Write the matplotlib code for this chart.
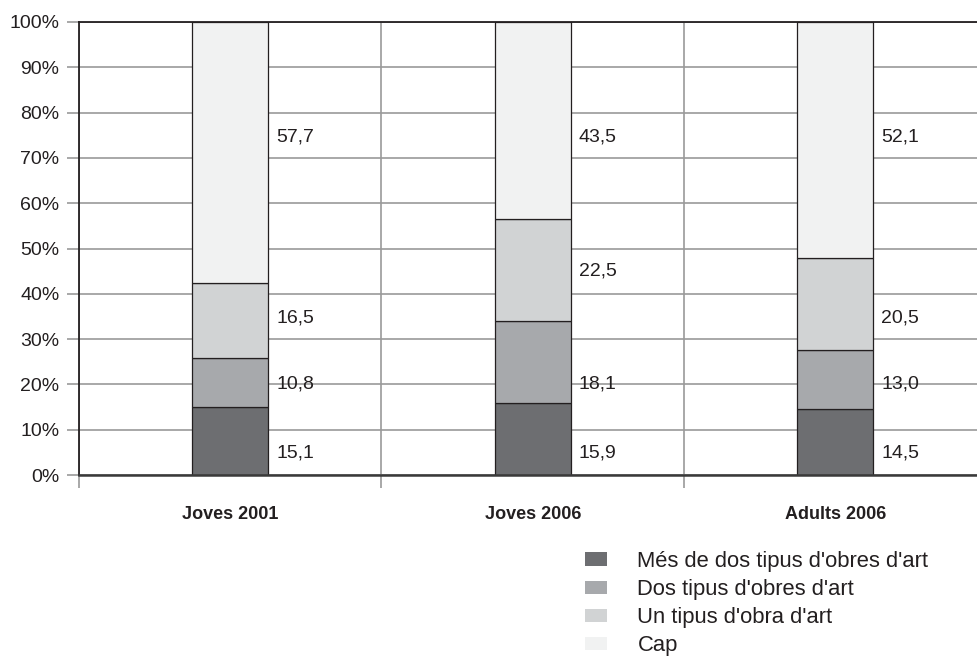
import numpy as np
import matplotlib.pyplot as plt
from matplotlib.patches import Patch
from matplotlib.ticker import FixedLocator, PercentFormatter

plt.rcParams.update({
    'font.family': ['Liberation Sans', 'DejaVu Sans'],
    'text.color': '#231f20',
    'axes.labelcolor': '#231f20',
    'xtick.color': '#231f20',
    'ytick.color': '#231f20',
})

# -------- Data --------
groups = ['Joves 2001', 'Joves 2006', 'Adults 2006']
series = ["Més de dos tipus d'obres d'art", "Dos tipus d'obres d'art",
          "Un tipus d'obra d'art", 'Cap']
mes_de_dos = [15.1, 15.9, 14.5]
dos_tipus = [10.8, 18.1, 13.0]
un_tipus = [16.5, 22.5, 20.5]
cap = [57.7, 43.5, 52.1]

# where the value labels sit (hand placed in the original)
label_y = [
    [4.9, 4.9, 4.9],
    [20.1, 20.1, 20.1],
    [34.7, 45.0, 34.7],
    [74.7, 74.7, 74.7],
]

colors = ['#6d6e71', '#a7a9ac', '#d1d3d4', '#f1f2f2']
edge = '#231f20'
grid_col = '#9a9a9a'

fig = plt.figure(figsize=(9.77, 6.63), dpi=100)
ax = fig.add_axes([79 / 977, 1 - 475 / 663, (986.5 - 79) / 977, (475 - 22) / 663])

x = np.arange(len(groups))
width = 0.25
bottom = np.zeros(len(groups))
for vals, col, name, ly in zip([mes_de_dos, dos_tipus, un_tipus, cap], colors, series, label_y):
    ax.bar(x, vals, width, bottom=bottom, color=col, edgecolor=edge,
           linewidth=0.9, zorder=3)
    for xi, v, yy in zip(x, vals, ly):
        ax.annotate(f'{v:.1f}'.replace('.', ','), xy=(xi + width / 2, yy),
                    xytext=(6, 0), textcoords='offset points',
                    va='center', ha='left', fontsize=14, zorder=4)
    bottom += np.array(vals)

ax.set_xlim(-0.5, len(groups) - 0.5)
ax.set_ylim(0, 100)

# y axis
ax.yaxis.set_major_locator(FixedLocator(np.arange(0, 101, 10)))
ax.yaxis.set_major_formatter(PercentFormatter(decimals=0))
ax.tick_params(axis='y', length=9, width=1.2, color=grid_col, pad=5, labelsize=14)
ax.yaxis.grid(True, color=grid_col, linewidth=1.2, zorder=0)

# x axis: labels at centres, separators between groups
ax.set_xticks(x)
ax.set_xticklabels(groups, fontsize=13, fontweight='bold')
ax.set_xticks(np.arange(-0.5, len(groups)), minor=True)
ax.tick_params(axis='x', which='major', length=0, pad=22)
ax.tick_params(axis='x', which='minor', length=9, width=1.2, color=grid_col)
ax.xaxis.grid(True, which='minor', color=grid_col, linewidth=1.2, zorder=0)

for side in ['left', 'top']:
    ax.spines[side].set_color('#231f20')
    ax.spines[side].set_linewidth(1.3)
ax.spines['bottom'].set_color('#3a3a3a')
ax.spines['bottom'].set_linewidth(1.8)
ax.spines['right'].set_visible(False)
for s in ax.spines.values():
    s.set_zorder(5)

# legend
handles = [Patch(facecolor=c, edgecolor='none') for c in colors]
leg = fig.legend(handles, series, loc='upper left',
                 bbox_to_anchor=(565 / 977, 1 - 531 / 663),
                 frameon=False, fontsize=15.8, handlelength=1.0,
                 handleheight=0.55, handletextpad=1.4, labelspacing=0.33)

fig.savefig('out.png', dpi=100)
